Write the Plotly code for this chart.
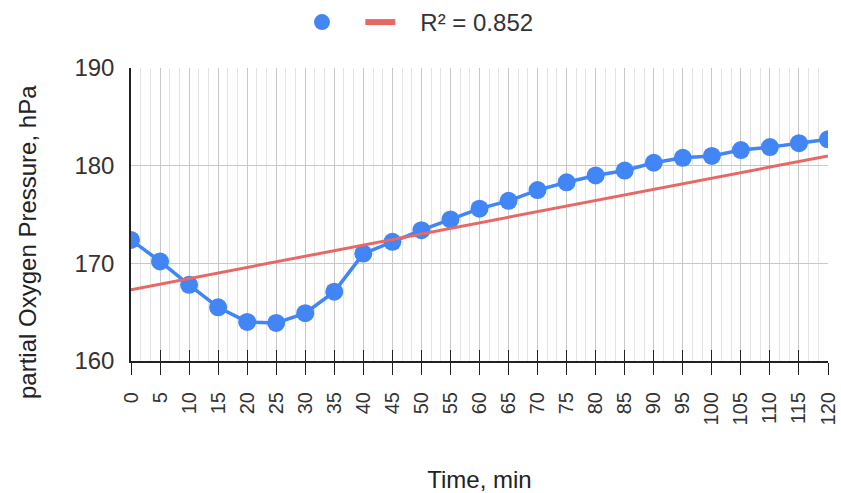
import plotly.graph_objects as go

time_min = [0, 5, 10, 15, 20, 25, 30, 35, 40, 45, 50, 55, 60, 65, 70, 75, 80, 85, 90, 95, 100, 105, 110, 115, 120]
pressure = [172.4, 170.2, 167.8, 165.5, 164.0, 163.9, 164.9, 167.1, 171.0, 172.2, 173.4, 174.5, 175.6, 176.4,
            177.5, 178.3, 179.0, 179.5, 180.3, 180.8, 181.0, 181.6, 181.9, 182.3, 182.7]
trend_time = [0, 120]
trend_pressure = [167.3, 181.0]
trend_label = "R² = 0.852"
y_ticks = [160, 170, 180, 190]

font_family = "Liberation Sans, Arial, sans-serif"
blue = "#4285F4"
red = "rgb(231,104,100)"
nbsp = "\u00a0"

fig = go.Figure()
fig.add_trace(go.Scatter(
    x=time_min, y=pressure, mode="lines+markers", showlegend=False,
    line=dict(color=blue, width=3.5),
    marker=dict(color=blue, size=18),
))
fig.add_trace(go.Scatter(
    x=trend_time, y=trend_pressure, mode="lines", showlegend=False,
    line=dict(color=red, width=3),
))
# legend entries
fig.add_trace(go.Scatter(
    x=[None], y=[None], mode="markers", name=nbsp * 2,
    marker=dict(color=blue, size=24),
))
fig.add_trace(go.Scatter(
    x=[None], y=[None], mode="lines", name=nbsp * 3 + trend_label,
    line=dict(color=red, width=6),
))
# helper trace for the inner half of crossing ticks
fig.add_trace(go.Scatter(
    x=time_min, y=pressure, mode="lines", xaxis="x2", showlegend=False,
    line=dict(width=0), hoverinfo="skip", opacity=0,
))

plot_w = 841 - 131 - 13

fig.update_layout(
    width=841, height=493,
    margin=dict(l=131, r=13, t=68, b=132),
    paper_bgcolor="white", plot_bgcolor="white",
    font=dict(family=font_family, size=24, color="#333333"),
    showlegend=True,
    legend=dict(orientation="h", x=(302 - 131) / plot_w, xanchor="left", y=1.0, yanchor="top",
                yref="container", font=dict(size=24, color="#333333"),
                itemwidth=30, tracegroupgap=0),
    xaxis=dict(
        range=[0, 120], tickmode="array", tickvals=time_min,
        ticktext=[str(t) for t in time_min], tickangle=-90,
        showgrid=True, gridcolor="#c8c8c8", gridwidth=1,
        minor=dict(dtick=5/3, tick0=0, showgrid=True, gridcolor="#e4e4e4", gridwidth=1),
        ticks="outside", ticklen=12, tickcolor="#222222", tickwidth=1.2,
        ticklabelstandoff=9, ticklabeloverflow="allow",
        showline=True, linecolor="#222222", linewidth=2,
        zeroline=False, automargin=False,
        title=dict(text="Time, min", font=dict(size=24, color="#222222"), standoff=48),
        tickfont=dict(size=20, color="#333333"),
    ),
    xaxis2=dict(
        range=[0, 120], overlaying="x", side="bottom", anchor="y",
        tickmode="array", tickvals=time_min, showticklabels=False,
        ticks="inside", ticklen=11, tickcolor="#222222", tickwidth=1.2,
        showgrid=False, showline=False, zeroline=False,
    ),
    yaxis=dict(
        range=[160, 190], tickmode="array", tickvals=y_ticks,
        showgrid=True, gridcolor="#c8c8c8", gridwidth=1,
        showline=True, linecolor="#222222", linewidth=1.5,
        zeroline=False, ticks="", automargin=False,
        ticklabelstandoff=10,
        tickfont=dict(size=24, color="#333333"),
    ),
    annotations=[dict(
        text="partial Oxygen Pressure, hPa", textangle=-90,
        xref="paper", yref="paper", x=-(131 - 27) / plot_w, y=(361 - 242) / 293,
        xanchor="center", yanchor="middle", showarrow=False,
        font=dict(size=24, color="#222222"),
    )],
)

fig.write_html("out.html", config={"displayModeBar": False},
               post_script="document.body.style.margin='0';")
